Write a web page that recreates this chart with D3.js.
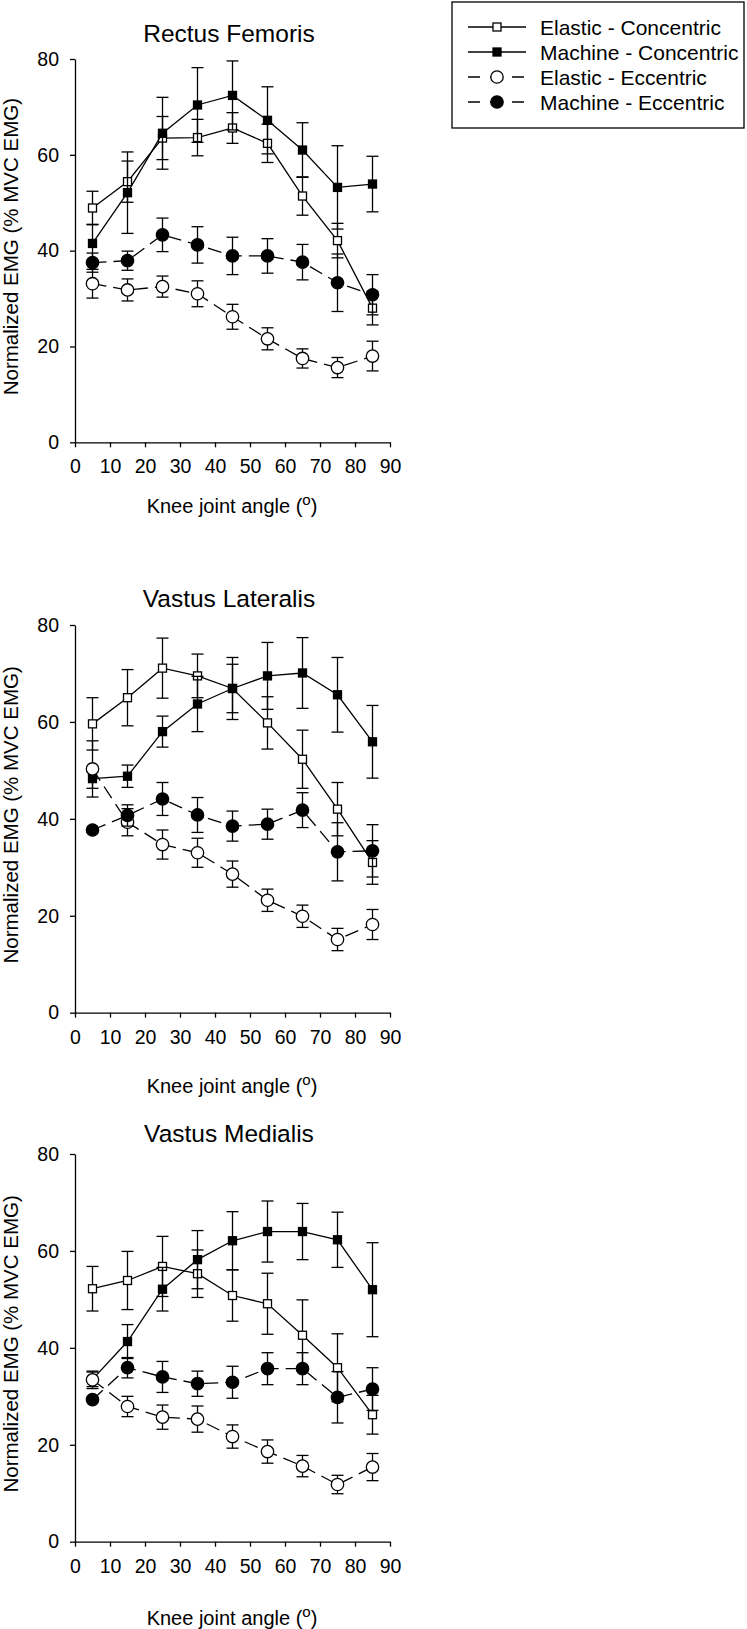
<!DOCTYPE html>
<html>
<head>
<meta charset="utf-8">
<script src="https://cdn.jsdelivr.net/npm/d3@7"></script>
<style>
  body { margin: 0; background: #fff; }
  text { font-family: Arial, "Liberation Sans", sans-serif; fill: #000; }
</style>
</head>
<body>
<svg id="chart"></svg>
<script>
// knee angles at which EMG was sampled
const angles = [5, 15, 25, 35, 45, 55, 65, 75, 85];
const xTicks = [0, 10, 20, 30, 40, 50, 60, 70, 80, 90];
const yTicks = [0, 20, 40, 60, 80];
const seriesNames = ["Elastic - Concentric", "Machine - Concentric", "Elastic - Eccentric", "Machine - Eccentric"];
const panelTitles = ["Rectus Femoris", "Vastus Lateralis", "Vastus Medialis"];

// means and error bars, one row per series (same order as seriesNames)
const rfMeans = [
  [48.9, 54.4, 63.5, 63.6, 65.6, 62.4, 51.4, 42.1, 28.0],
  [41.5, 52.1, 64.5, 70.4, 72.4, 67.2, 61.0, 53.2, 53.9],
  [33.1, 31.8, 32.5, 31.0, 26.2, 21.6, 17.5, 15.6, 18.0],
  [37.5, 37.9, 43.3, 41.2, 38.9, 38.9, 37.6, 33.3, 30.8]
];
const rfErrors = [
  [3.5, 4.3, 4.5, 3.8, 3.2, 4.0, 4.0, 3.6, 3.5],
  [4.0, 8.5, 7.5, 7.8, 7.2, 7.0, 5.7, 8.7, 5.8],
  [3.0, 2.3, 2.2, 2.7, 2.6, 2.3, 2.0, 2.1, 3.1],
  [2.0, 2.0, 3.5, 3.8, 3.9, 3.6, 3.7, 6.0, 4.2]
];

const vlMeans = [
  [59.6, 65.0, 71.1, 69.5, 66.9, 59.8, 52.3, 42.0, 31.0],
  [48.3, 48.8, 58.0, 63.7, 66.9, 69.5, 70.1, 65.6, 55.9],
  [50.3, 39.3, 34.7, 33.0, 28.6, 23.2, 19.9, 15.1, 18.2],
  [37.7, 40.7, 44.1, 40.8, 38.5, 38.9, 41.8, 33.2, 33.4]
];
const vlErrors = [
  [5.4, 5.8, 6.2, 4.5, 5.0, 5.4, 6.0, 5.5, 4.5],
  [2.0, 2.3, 3.2, 5.7, 6.4, 6.9, 7.3, 7.7, 7.5],
  [5.8, 2.8, 3.0, 3.0, 2.7, 2.3, 2.3, 2.3, 3.1],
  [0.0, 2.2, 3.4, 3.6, 3.1, 3.1, 3.6, 6.0, 5.4]
];

const vmMeans = [
  [52.2, 53.9, 56.8, 55.3, 50.8, 49.1, 42.6, 35.9, 26.2],
  [33.5, 41.3, 52.1, 58.2, 62.1, 64.0, 64.0, 62.3, 52.0],
  [33.4, 27.9, 25.7, 25.3, 21.7, 18.6, 15.6, 11.8, 15.4],
  [29.3, 35.9, 34.0, 32.6, 32.9, 35.7, 35.7, 29.8, 31.5]
];
const vmErrors = [
  [4.6, 6.0, 6.2, 4.9, 5.3, 6.3, 7.3, 7.0, 4.0],
  [1.5, 3.5, 4.5, 6.0, 6.0, 6.3, 5.8, 5.7, 9.7],
  [1.8, 2.1, 2.5, 2.7, 2.4, 2.4, 2.2, 1.9, 2.8],
  [0.0, 2.1, 3.2, 2.6, 3.3, 3.3, 3.3, 5.3, 4.4]
];

const allMeans = [rfMeans, vlMeans, vmMeans];
const allErrors = [rfErrors, vlErrors, vmErrors];

// canvas
const W = 747, H = 1629;
const svg = d3.select("#chart").attr("width", W).attr("height", H);
svg.append("rect").attr("width", W).attr("height", H).attr("fill", "#fff");

// vertical placement of each panel: [y of 0, y of 80, title baseline, x-label baseline]
const panelLayout = [
  [442.3, 59, 41.5, 513],
  [1012.7, 625, 607, 1093],
  [1541.7, 1154, 1142, 1625]
];

// marker style per series
const markerStyle = [
  { shape: "square", fill: "#fff", dash: null },
  { shape: "square", fill: "#000", dash: null },
  { shape: "circle", fill: "#fff", dash: "14,7" },
  { shape: "circle", fill: "#000", dash: "14,7" }
];

const lineW = 1.3;
const capHalf = 6;

function drawMarker(g, shape, fill, cx, cy) {
  if (shape === "square") {
    g.append("rect")
      .attr("x", cx - 4).attr("y", cy - 4)
      .attr("width", 8).attr("height", 8)
      .attr("fill", fill).attr("stroke", "#000").attr("stroke-width", lineW);
  } else {
    g.append("circle")
      .attr("cx", cx).attr("cy", cy).attr("r", 6.2)
      .attr("fill", fill).attr("stroke", "#000").attr("stroke-width", lineW);
  }
}

const x = d3.scaleLinear().domain([0, 90]).range([75, 390]);

panelTitles.forEach((title, p) => {
  const [y0, y80, titleY, labelY] = panelLayout[p];
  const y = d3.scaleLinear().domain([0, 80]).range([y0, y80]);
  const g = svg.append("g");

  // title
  g.append("text")
    .attr("x", 229).attr("y", titleY)
    .attr("text-anchor", "middle")
    .style("font-size", "24.5px")
    .text(title);

  // axes
  const xAxis = g.append("g")
    .attr("transform", "translate(0," + y0 + ")")
    .call(d3.axisBottom(x).tickValues(xTicks).tickSize(5).tickSizeOuter(0).tickPadding(12));
  const yAxis = g.append("g")
    .attr("transform", "translate(75,0)")
    .call(d3.axisLeft(y).tickValues(yTicks).tickSize(5).tickSizeOuter(0).tickPadding(11));
  [xAxis, yAxis].forEach((a) => {
    a.selectAll("path, line").attr("stroke", "#000").attr("stroke-width", lineW);
    a.selectAll("text").attr("fill", "#000")
      .style("font-size", "19.5px")
      .style("font-family", "Arial, 'Liberation Sans', sans-serif");
  });

  // axis labels
  const xl = g.append("text")
    .attr("x", 232).attr("y", labelY)
    .attr("text-anchor", "middle")
    .style("font-size", "20px");
  xl.append("tspan").text("Knee joint angle (");
  xl.append("tspan").attr("dy", -8).style("font-size", "15px").text("o");
  xl.append("tspan").attr("dy", 8).text(")");

  g.append("text")
    .attr("transform", "translate(18," + ((y0 + y80) / 2 - 4) + ")rotate(-90)")
    .attr("text-anchor", "middle")
    .style("font-size", "20.5px")
    .text("Normalized EMG (% MVC EMG)");

  // series: line, error bars, markers
  seriesNames.forEach((name, s) => {
    const pts = angles.map((a, i) => ({ a, m: allMeans[p][s][i], e: allErrors[p][s][i] }));
    const sg = g.append("g");
    const line = d3.line().x((d) => x(d.a)).y((d) => y(d.m));
    sg.append("path").datum(pts)
      .attr("d", line)
      .attr("fill", "none").attr("stroke", "#000").attr("stroke-width", lineW)
      .attr("stroke-dasharray", markerStyle[s].dash);

    pts.forEach((d) => {
      if (d.e > 0) {
        const cx = x(d.a);
        const top = y(d.m + d.e), bot = y(d.m - d.e);
        const eb = sg.append("g").attr("stroke", "#000").attr("stroke-width", lineW);
        eb.append("line").attr("x1", cx).attr("x2", cx).attr("y1", top).attr("y2", bot);
        eb.append("line").attr("x1", cx - capHalf).attr("x2", cx + capHalf).attr("y1", top).attr("y2", top);
        eb.append("line").attr("x1", cx - capHalf).attr("x2", cx + capHalf).attr("y1", bot).attr("y2", bot);
      }
    });
    pts.forEach((d) => drawMarker(sg, markerStyle[s].shape, markerStyle[s].fill, x(d.a), y(d.m)));
  });
});

// legend
const legend = svg.append("g");
legend.append("rect")
  .attr("x", 452).attr("y", 2).attr("width", 292).attr("height", 126)
  .attr("fill", "#fff").attr("stroke", "#000").attr("stroke-width", lineW);

seriesNames.forEach((name, s) => {
  const ly = 27 + s * 25;
  legend.append("line")
    .attr("x1", 468).attr("x2", 526).attr("y1", ly).attr("y2", ly)
    .attr("stroke", "#000").attr("stroke-width", lineW)
    .attr("stroke-dasharray", markerStyle[s].dash ? "12,10" : null);
  drawMarker(legend, markerStyle[s].shape, markerStyle[s].fill, 497, ly);
  legend.append("text")
    .attr("x", 540).attr("y", ly + 7.5)
    .style("font-size", "21px")
    .text(name);
});
</script>
</body>
</html>
